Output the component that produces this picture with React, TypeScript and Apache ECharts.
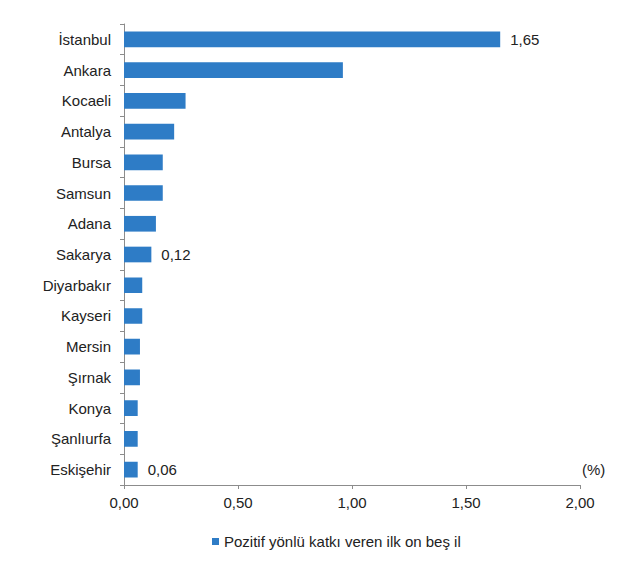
import React, { useEffect, useRef } from "react";
import * as echarts from "echarts";

const cities = [
  "İstanbul", "Ankara", "Kocaeli", "Antalya", "Bursa", "Samsun", "Adana", "Sakarya",
  "Diyarbakır", "Kayseri", "Mersin", "Şırnak", "Konya", "Şanlıurfa", "Eskişehir",
];
const values = [1.65, 0.96, 0.27, 0.22, 0.17, 0.17, 0.14, 0.12, 0.08, 0.08, 0.07, 0.07, 0.06, 0.06, 0.06];
const labelledCities = ["İstanbul", "Sakarya", "Eskişehir"];
const xTicks = [0, 0.5, 1, 1.5, 2];
const seriesName = "Pozitif yönlü katkı veren ilk on beş il";

const fmt = (v: number) => v.toFixed(2).replace(".", ",");

export default function App() {
  const ref = useRef<HTMLDivElement>(null);
  useEffect(() => {
    if (!ref.current) return;
    const chart = echarts.init(ref.current, undefined, { renderer: "svg" });
    const font = "Liberation Sans, Arial, sans-serif";
    chart.setOption({
      animation: false,
      backgroundColor: "#ffffff",
      textStyle: { fontFamily: font },
      grid: { left: 116, right: 52, top: 16, bottom: 71, containLabel: false },
      legend: {
        left: 202,
        top: 524,
        padding: 2,
        icon: "rect",
        itemWidth: 7,
        itemHeight: 7,
        itemGap: 6,
        textStyle: { fontFamily: font, fontSize: 15, color: "#222" },
        data: [seriesName],
      },
      xAxis: {
        type: "value",
        min: xTicks[0],
        max: xTicks[xTicks.length - 1],
        interval: xTicks[1] - xTicks[0],
        splitLine: { show: false },
        axisLine: { show: true, lineStyle: { color: "#8c8c8c", width: 1 } },
        axisTick: { show: true, length: 4, lineStyle: { color: "#8c8c8c" } },
        axisLabel: { formatter: (v: number) => fmt(v), fontSize: 15, color: "#222", margin: 10, fontFamily: font },
      },
      yAxis: {
        type: "category",
        inverse: true,
        data: cities,
        axisLine: { show: true, lineStyle: { color: "#8c8c8c", width: 1 } },
        axisTick: { show: true, length: 4, lineStyle: { color: "#8c8c8c" } },
        axisLabel: { fontSize: 15, color: "#222", margin: 13, fontFamily: font },
      },
      graphic: [
        {
          type: "text",
          left: 574,
          top: 454,
          style: { text: "(%)", fontSize: 15, fill: "#222", fontFamily: font },
        },
      ],
      series: [
        {
          name: seriesName,
          type: "bar",
          barCategoryGap: "49%",
          itemStyle: { color: "#2E7CC6" },
          data: values.map((v, i) => ({
            value: v,
            label: {
              show: labelledCities.includes(cities[i]),
              position: "right",
              distance: 10,
              formatter: (p: any) => fmt(p.value),
              fontSize: 15,
              color: "#222",
              fontFamily: font,
            },
          })),
        },
      ],
    });
    return () => chart.dispose();
  }, []);
  return <div ref={ref} style={{ width: 624, height: 548 }} />;
}
